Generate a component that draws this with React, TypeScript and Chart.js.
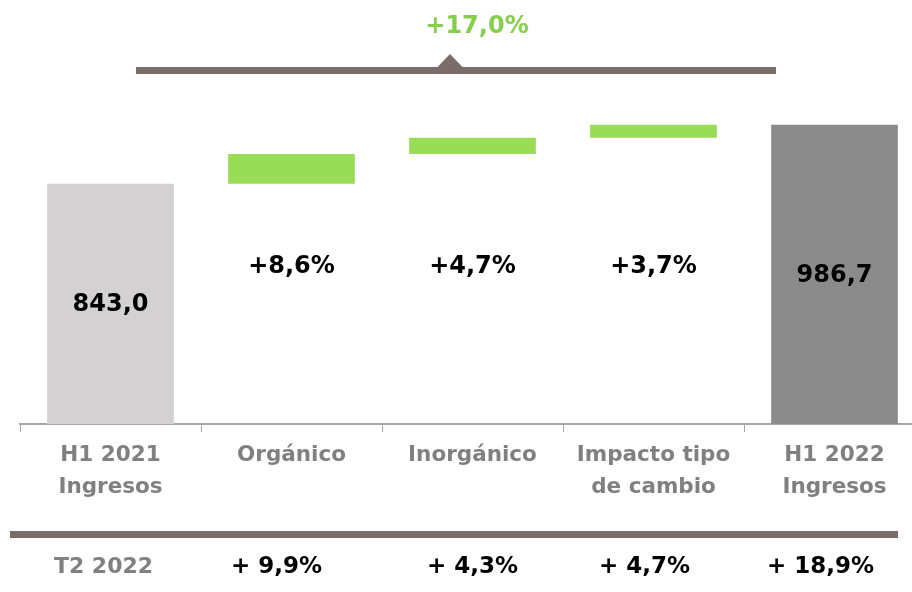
import React, { useEffect, useRef } from "react";
import { Chart, registerables } from "chart.js";

Chart.register(...registerables);

// ---- Data ----
const categories: string[][] = [
  ["H1 2021", "Ingresos"],
  ["Orgánico"],
  ["Inorgánico"],
  ["Impacto tipo", "de cambio"],
  ["H1 2022", "Ingresos"],
];
const startRevenue = 843.0;
const endRevenue = 986.7;
const stepDeltas = [72.5, 39.8, 31.4];
const stepLabels = ["+8,6%", "+4,7%", "+3,7%"];
const totalLabels = ["843,0", "986,7"];
const overallGrowthLabel = "+17,0%";
const q2RowTitle = "T2 2022";
const q2RowValues = ["+ 9,9%", "+ 4,3%", "+ 4,7%", "+ 18,9%"];
const axisMin = 258;
const axisMax = 1047;

// ---- Styles ----
const FONT = "'DejaVu Sans', Verdana, sans-serif";
const GREEN = "#99dd57";
const GREEN_TEXT = "#86cf4a";
const LIGHT_GRAY = "#d3d1d1";
const DARK_GRAY = "#8b8b8b";
const BROWN = "#7a6c68";
const LABEL_GRAY = "#808080";
const rowOffsets = [-7, -15, 0, -9, -14];

function buildData() {
  const data: (number | [number, number])[] = [startRevenue];
  let cur = startRevenue;
  for (const d of stepDeltas) {
    data.push([cur, cur + d]);
    cur += d;
  }
  data.push(endRevenue);
  return data;
}

const overlayPlugin = {
  id: "overlay",
  afterDatasetsDraw(chart: any) {
    const { ctx } = chart;
    const meta = chart.getDatasetMeta(0);
    const xs = chart.scales.x;
    const bottom = chart.chartArea.bottom;
    ctx.save();
    ctx.textAlign = "center";
    ctx.textBaseline = "middle";

    // totals inside bars
    const totalIdx = [0, categories.length - 1];
    totalIdx.forEach((idx, k) => {
      const el = meta.data[idx];
      const y = (el.y + bottom) / 2;
      ctx.fillStyle = "#000";
      ctx.font = `bold 24px ${FONT}`;
      ctx.fillText(totalLabels[k], el.x, y + 1);
    });

    // step labels
    stepLabels.forEach((lab, k) => {
      const el = meta.data[k + 1];
      ctx.fillStyle = "#000";
      ctx.font = `bold 24px ${FONT}`;
      ctx.fillText(lab, el.x, chart.chartArea.top + 167);
    });

    // top bracket
    ctx.fillStyle = BROWN;
    ctx.fillRect(136, 67, 640, 7);
    ctx.beginPath();
    ctx.moveTo(437, 67.5);
    ctx.lineTo(450, 54);
    ctx.lineTo(463, 67.5);
    ctx.closePath();
    ctx.fill();
    ctx.fillStyle = GREEN_TEXT;
    ctx.font = `bold 24px ${FONT}`;
    ctx.fillText(overallGrowthLabel, 477, 27);

    // bottom row
    ctx.fillStyle = BROWN;
    ctx.fillRect(10, 531, 888, 7);
    ctx.fillStyle = LABEL_GRAY;
    ctx.font = `bold 22px ${FONT}`;
    ctx.fillText(q2RowTitle, xs.getPixelForValue(0) + rowOffsets[0], 567);
    q2RowValues.forEach((v, k) => {
      ctx.fillStyle = "#000";
      ctx.font = `bold 23px ${FONT}`;
      ctx.fillText(v, xs.getPixelForValue(k + 1) + rowOffsets[k + 1], 567);
    });
    ctx.restore();
  },
};

export default function App() {
  const ref = useRef<HTMLCanvasElement | null>(null);
  useEffect(() => {
    if (!ref.current) return;
    const chart = new Chart(ref.current, {
      type: "bar",
      data: {
        labels: categories,
        datasets: [
          {
            data: buildData() as any,
            backgroundColor: [LIGHT_GRAY, GREEN, GREEN, GREEN, DARK_GRAY],
            borderWidth: 0,
            barPercentage: 0.7,
            categoryPercentage: 1,
          },
        ],
      },
      options: {
        responsive: false,
        animation: false,
        devicePixelRatio: 1,
        layout: { padding: { left: 20, right: 5, top: 100, bottom: 0 } },
        plugins: { legend: { display: false }, tooltip: { enabled: false } },
        scales: {
          y: { display: false, min: axisMin, max: axisMax },
          x: {
            afterFit: (s: any) => {
              s.height = 168;
            },
            border: { display: true, color: "#a6a6a6", width: 2 },
            grid: {
              offset: true,
              drawOnChartArea: false,
              drawTicks: true,
              tickLength: 8,
              color: "#a6a6a6",
              lineWidth: 1,
            },
            ticks: {
              padding: 7,
              color: LABEL_GRAY,
              maxRotation: 0,
              autoSkip: false,
              font: { family: FONT, size: 21.5, weight: "bold", lineHeight: 1.5 },
            },
          },
        },
      },
      plugins: [overlayPlugin],
    });
    return () => chart.destroy();
  }, []);
  return (
    <div
      style={{
        position: "fixed",
        left: 0,
        top: 0,
        width: 912,
        height: 592,
        overflow: "hidden",
        background: "#fff",
      }}
    >
      <canvas ref={ref} width={930} height={592} style={{ width: 930, height: 592, display: "block" }} />
    </div>
  );
}
